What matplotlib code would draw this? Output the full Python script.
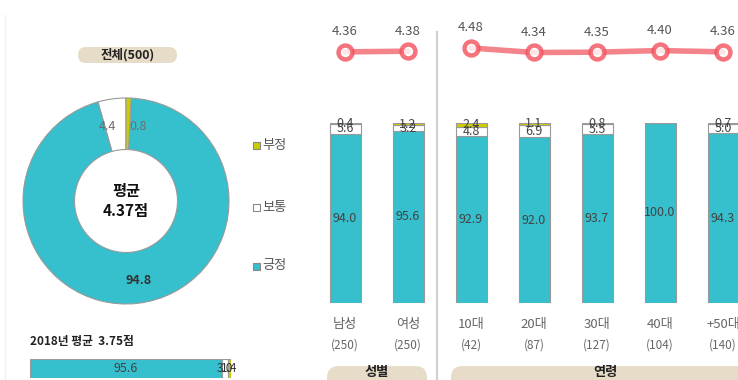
import matplotlib
matplotlib.use("Agg")
import matplotlib.pyplot as plt
from matplotlib.patches import FancyBboxPatch, Rectangle
import numpy as np

plt.rcParams['font.family'] = ['Noto Sans CJK KR', 'DejaVu Sans']

# 전체 응답 분포 (%)
total_labels = ['긍정', '보통', '부정']
total_values = [94.8, 4.4, 0.8]
total_mean = 4.37

# 2018년 결과
prev_values = [95.6, 3.0, 1.4]
prev_mean = 3.75

# 집단별 결과
groups = ['남성', '여성', '10대', '20대', '30대', '40대', '+50대']
group_n = [250, 250, 42, 87, 127, 104, 140]
positive = [94.0, 95.6, 92.9, 92.0, 93.7, 100.0, 94.3]
neutral = [5.6, 3.2, 4.8, 6.9, 5.5, 0.0, 5.0]
negative = [0.4, 1.2, 2.4, 1.1, 0.8, 0.0, 0.7]
means = [4.36, 4.38, 4.48, 4.34, 4.35, 4.40, 4.36]

CYAN = '#36bfcc'
YELLOW = '#cccc00'
EDGE = '#9a9a9a'
PILL = '#e6dcc8'
TXT = '#555555'

W, H = 738, 380
fig = plt.figure(figsize=(W / 100, H / 100), dpi=100)


def box(x0, y0, x1, y1):
    # 픽셀 좌표(위에서부터) -> figure 비율
    return [x0 / W, 1 - y1 / H, (x1 - x0) / W, (y1 - y0) / H]


# 배경 요소용 픽셀 좌표 축
bg = fig.add_axes([0, 0, 1, 1])
bg.set_xlim(0, W)
bg.set_ylim(H, 0)
bg.axis('off')


def pill(x0, y0, x1, y1, text, ty=None, size=9):
    h = y1 - y0
    bg.add_patch(FancyBboxPatch((x0, y0), x1 - x0, h,
                                boxstyle=f"round,pad=0,rounding_size={h / 2}",
                                facecolor=PILL, edgecolor='none'))
    bg.text((x0 + x1) / 2, ty if ty else (y0 + y1) / 2, text, ha='center',
            va='center', fontsize=size, fontweight='bold', color='#222222')


# 구분선
bg.plot([437, 437], [32, 380], color='#d0d0d0', lw=1.5)
bg.plot([5, 5], [15, 380], color='#f0f0f0', lw=1)

pill(78, 47, 177, 63, '전체(500)')
pill(327, 366, 427, 390, '성별', ty=372, size=9.5)
pill(451, 366, 760, 390, '연령', ty=372, size=9.5)

# 범례
legend_items = [('부정', YELLOW, 145), ('보통', 'white', 207), ('긍정', CYAN, 266)]
for name, col, yy in legend_items:
    bg.add_patch(Rectangle((253, yy - 3.5), 7, 7, facecolor=col,
                           edgecolor='#888888', lw=0.8))
    bg.text(262, yy, name, ha='left', va='center', fontsize=9.5, color=TXT)

fig.text(30 / W, 1 - 341 / H, f'2018년 평균  {prev_mean:.2f}점', ha='left',
         va='center', fontsize=8.5, fontweight='bold', color='#222222')

# 도넛 차트
ax_pie = fig.add_axes(box(23, 98, 229, 304))
pie_vals = [total_values[1], total_values[0], total_values[2]]
pie_cols = ['white', CYAN, YELLOW]
ax_pie.pie(pie_vals, colors=pie_cols, startangle=90, counterclock=True,
           radius=1, wedgeprops=dict(width=0.5, edgecolor=EDGE, linewidth=0.8))
ax_pie.set_xlim(-1, 1)
ax_pie.set_ylim(-1, 1)
ax_pie.set_aspect('equal')
ax_pie.axis('off')
ax_pie.text(-0.18, 0.72, f'{total_values[1]:.1f}', ha='center', va='center',
            fontsize=9, color='#6e6e6e')
ax_pie.text(0.03, 0.72, f'{total_values[2]:.1f}', ha='left', va='center',
            fontsize=9, color='#6e6e6e')
ax_pie.text(0.12, -0.77, f'{total_values[0]:.1f}', ha='center', va='center',
            fontsize=9, color='#333333', fontweight='bold')
ax_pie.text(0, 0.0, f'평균\n{total_mean:.2f}점', ha='center', va='center',
            fontsize=11, fontweight='bold', color='#111111', linespacing=1.3)

# 2018년 막대
ax_prev = fig.add_axes(box(30, 359, 231, 378))
left = 0
for v, col in zip(prev_values, [CYAN, 'white', YELLOW]):
    ax_prev.barh(0, v, left=left, height=1, color=col, edgecolor=EDGE, lw=0.8)
    left += v
ax_prev.set_xlim(0, 100)
ax_prev.set_ylim(-0.5, 0.5)
ax_prev.axis('off')
ax_prev.text(prev_values[0] / 2, 0, f'{prev_values[0]:.1f}', ha='center',
             va='center', fontsize=9, color='#444444')
ax_prev.text(prev_values[0] + prev_values[1] / 2, 0, f'{prev_values[1]:.1f}',
             ha='center', va='center', fontsize=8.5, color='#333333')
ax_prev.text(100 - prev_values[2] / 2, 0, f'{prev_values[2]:.1f}',
             ha='center', va='center', fontsize=8.5, color='#333333')

# 집단별 누적 막대
x = np.arange(len(groups))
step = 63.0
x0_px = 345.0
ax_left, ax_right = 300, 738
xlim = ((ax_left - x0_px) / step, (ax_right - x0_px) / step)

ax_bar = fig.add_axes(box(ax_left, 123, ax_right, 303))
bw = 31 / step
pos = np.array(positive)
neu = np.array(neutral)
neg = np.array(negative)
ax_bar.bar(x, pos, width=bw, color=CYAN, edgecolor=EDGE, lw=0.8)
ax_bar.bar(x, neu, width=bw, bottom=pos, color='white', edgecolor=EDGE, lw=0.8)
ax_bar.bar(x, neg, width=bw, bottom=pos + neu, color=YELLOW, edgecolor=EDGE,
           lw=0.8)
ax_bar.set_xlim(*xlim)
ax_bar.set_ylim(0, 100)
ax_bar.axis('off')
for i in range(len(groups)):
    ax_bar.text(x[i], pos[i] / 2, f'{pos[i]:.1f}', ha='center', va='center',
                fontsize=9, color='#444444')
    if neu[i] > 0:
        ax_bar.text(x[i], pos[i] + neu[i] / 2, f'{neu[i]:.1f}', ha='center',
                    va='center', fontsize=9, color='#444444')
    if neg[i] > 0:
        ax_bar.text(x[i], pos[i] + neu[i] + neg[i] / 2, f'{neg[i]:.1f}',
                    ha='center', va='center', fontsize=9, color='#444444')
    ax_bar.text(x[i], -12, groups[i], ha='center', va='center', fontsize=9.5,
                color='#666666')
    ax_bar.text(x[i], -23.5, f'({group_n[i]})', ha='center', va='center',
                fontsize=8.5, color='#666666')

# 평균 점수 꺾은선
ax_line = fig.add_axes(box(ax_left, 20, ax_right, 80))
ax_line.set_xlim(*xlim)
ax_line.set_ylim(3.485, 5.35)
ax_line.axis('off')
line_kw = dict(color='#f2656f', lw=4, alpha=0.8, marker='o', markersize=10,
               markerfacecolor='white', markeredgecolor='#f2505c',
               markeredgewidth=3.2, solid_capstyle='round')
ax_line.plot(x[:2], means[:2], **line_kw)
ax_line.plot(x[2:], means[2:], **line_kw)
for i, m in enumerate(means):
    ax_line.annotate(f'{m:.2f}', (x[i], m), xytext=(0, 20),
                     textcoords='offset pixels', ha='center', va='center',
                     fontsize=9.5, color='#555555')

fig.savefig('out.png', dpi=100)
